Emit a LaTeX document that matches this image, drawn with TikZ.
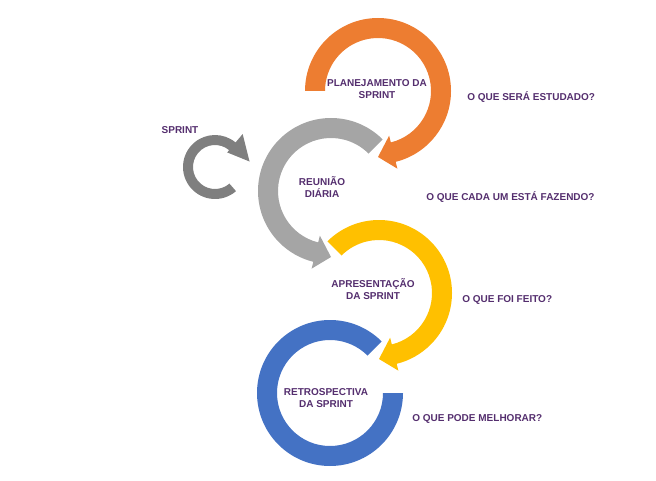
\documentclass[tikz,border=0pt]{standalone}
\usepackage{fontspec}
\setmainfont{Liberation Sans}
\usetikzlibrary{calc}

\definecolor{ringorange}{HTML}{ED7D31}
\definecolor{ringgray}{HTML}{A5A5A5}
\definecolor{ringyellow}{HTML}{FFC000}
\definecolor{ringblue}{HTML}{4472C4}
\definecolor{sprintgray}{HTML}{7F7F7F}
\definecolor{labelpurple}{RGB}{84,46,110}

% #1 centre, #2 start angle, #3 head base angle, #4 tip angle, #5 colour
\newcommand{\ringarrow}[5]{%
  \fill[#5] ($(#1)+(#2:73)$) arc[start angle=#2, end angle=#3, radius=73]
    -- ($(#1)+(#3:80)$) -- ($(#1)+(#4:66)$) -- ($(#1)+(#3:46)$)
    -- ($(#1)+(#3:53)$) arc[start angle=#3, end angle=#2, radius=53] -- cycle;}

\begin{document}
\begin{tikzpicture}[
x=0.75pt,y=0.75pt,
font=\bfseries\fontsize{7.5}{9}\selectfont,
step label/.style={text=labelpurple,align=center,inner sep=0pt},
question/.style={text=labelpurple,anchor=west,inner sep=0pt}
]
\useasboundingbox (0,0) rectangle (656,-481);

\coordinate (plan) at (378,-91);
\coordinate (daily) at (331,-191);
\coordinate (review) at (379,-293);
\coordinate (retro) at (330,-393);
\coordinate (loop) at (215,-167);

% rings
\ringarrow{daily}{45}{256}{270}{ringgray}
\ringarrow{plan}{180}{-76}{-90}{ringorange}
\fill[ringblue] ($(retro)+(45:73)$) arc[start angle=45, end angle=360, radius=73]
  -- ($(retro)+(0:53)$) arc[start angle=360, end angle=45, radius=53] -- cycle;
\ringarrow{review}{135}{-76}{-90}{ringyellow}

% small sprint loop
\fill[sprintgray] ($(loop)+(-49:32)$) arc[start angle=-49, end angle=-310, radius=32]
  -- ($(loop)+(50:43)$) -- ($(loop)+(9:35)$) -- ($(loop)+(50:19)$)
  -- ($(loop)+(50:22)$) arc[start angle=-310, end angle=-49, radius=22] -- cycle;

% labels
\node[step label] (planlbl) at (377,-89) {PLANEJAMENTO DA\\SPRINT};
\node[step label] (dailylbl) at (322,-187) {REUNIÃO\\DIÁRIA};
\node[step label] (reviewlbl) at (373,-289) {APRESENTAÇÃO\\DA SPRINT};
\node[step label] (retrolbl) at (326,-398) {RETROSPECTIVA\\DA SPRINT};
\node[step label] (sprintlbl) at (180,-130) {SPRINT};

\node[question] (q1) at (467,-97) {O QUE SERÁ ESTUDADO?};
\node[question] (q2) at (426,-197) {O QUE CADA UM ESTÁ FAZENDO?};
\node[question] (q3) at (462,-300) {O QUE FOI FEITO?};
\node[question] (q4) at (412,-419) {O QUE PODE MELHORAR?};

\end{tikzpicture}
\end{document}
